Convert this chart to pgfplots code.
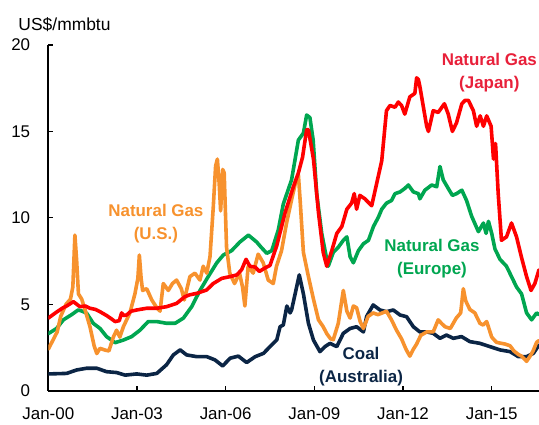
\documentclass[border=0pt]{standalone}
\usepackage{fontspec}
\setmainfont{Liberation Sans}
\usepackage{pgfplots}
\pgfplotsset{compat=1.18}
\definecolor{jpred}{HTML}{FF0000}
\definecolor{eugreen}{HTML}{00A650}
\definecolor{usorange}{HTML}{F7922E}
\definecolor{coalnavy}{HTML}{0B2545}
\definecolor{jplabel}{HTML}{E8203A}
\begin{document}
\begin{tikzpicture}
\begin{axis}[name=ax, scale only axis, width=490.7bp, height=345.7bp,
 xmin=0, xmax=16.6, ymin=0, ymax=20,
 axis lines*=left, axis line style={line width=1.6bp, black},
 xtick={0,3,6,9,12,15}, xticklabels={Jan-00,Jan-03,Jan-06,Jan-09,Jan-12,Jan-15},
 ytick={0,5,10,15,20}, yticklabels={0,5,10,15,20},
 tick align=inside, major tick length=5bp, tick style={line width=1.3bp, black},
 ticklabel style={font=\fontsize{17}{17}\selectfont, inner sep=0pt},
 xticklabel style={anchor=north, yshift=-17bp},
 yticklabel style={anchor=east, xshift=-18bp},
 every axis plot/.append style={line width=3.6bp, line join=round, line cap=round, no marks},
]
% Coal (Australia)
\addplot[coalnavy] table {
0 0.97
0.62 1.0
0.96 1.2
1.3 1.3
1.64 1.3
1.97 1.1
2.31 1.05
2.6 0.9
2.99 0.97
3.33 0.9
3.67 1.0
4.0 1.5
4.23 2.07
4.46 2.36
4.68 2.07
5.02 1.97
5.36 1.97
5.64 1.78
5.9 1.43
6.15 1.88
6.43 2.0
6.71 1.63
7.0 1.97
7.28 2.16
7.5 2.55
7.73 2.94
7.84 3.7
7.95 3.8
8.07 4.9
8.18 4.5
8.23 4.67
8.35 5.6
8.49 6.7
8.63 5.6
8.8 3.9
8.97 2.93
9.19 2.26
9.36 2.55
9.53 2.74
9.76 2.55
9.98 3.32
10.21 3.6
10.43 3.7
10.66 3.4
10.77 4.3
10.99 4.96
11.22 4.67
11.44 4.57
11.67 4.67
11.9 4.38
12.12 4.28
12.35 3.7
12.57 3.4
12.8 3.4
13.02 3.32
13.25 3.03
13.47 3.22
13.7 3.03
13.98 3.13
14.26 2.84
14.6 2.74
14.94 2.55
15.28 2.36
15.62 2.26
15.9 1.97
16.18 1.97
16.41 2.16
16.6 2.65
};
% Natural gas (Europe)
\addplot[eugreen] table {
0 3.3
0.28 3.6
0.51 4.1
0.79 4.4
1.01 4.67
1.15 4.6
1.3 4.48
1.52 3.9
1.75 3.6
1.97 3.13
2.26 2.78
2.54 2.93
2.82 3.13
3.1 3.5
3.38 4.0
3.67 4.0
4.0 3.9
4.29 3.9
4.57 4.2
4.85 4.86
5.13 5.8
5.41 6.6
5.7 7.4
5.92 7.85
6.2 8.1
6.48 8.6
6.77 9.0
7.05 8.6
7.2 8.3
7.39 7.95
7.56 8.1
7.78 9.3
7.95 10.8
8.23 12.2
8.46 14.5
8.63 14.9
8.74 15.95
8.85 15.8
8.96 14.5
9.08 11.4
9.25 9.1
9.42 7.6
9.47 7.2
9.64 8.0
9.81 8.3
9.98 8.7
10.1 8.9
10.21 7.75
10.32 7.4
10.49 8.1
10.66 8.5
10.83 8.7
11.0 9.5
11.17 10.05
11.28 10.5
11.44 10.85
11.61 11.0
11.73 11.4
11.9 11.5
12.06 11.7
12.18 11.9
12.35 11.5
12.52 11.4
12.57 11.1
12.74 11.6
12.97 11.9
13.14 11.8
13.25 12.97
13.36 12.2
13.53 11.7
13.67 11.3
13.81 11.4
13.99 11.6
14.15 11.0
14.32 10.1
14.55 9.2
14.72 9.7
14.81 9.1
14.89 9.8
15.0 9.1
15.11 8.2
15.28 7.6
15.5 7.2
15.67 6.6
15.84 6.0
16.01 5.6
16.18 4.5
16.35 4.1
16.52 4.5
16.6 4.4
};
% Natural gas (U.S.)
\addplot[usorange] table {
0 2.4
0.15 2.9
0.3 3.4
0.42 4.3
0.6 5.0
0.75 5.3
0.83 6.0
0.9 9.0
0.96 7.5
1.02 5.6
1.13 5.3
1.24 4.7
1.41 3.7
1.55 2.6
1.64 2.15
1.75 2.45
1.92 2.35
2.05 2.3
2.2 3.1
2.31 3.5
2.42 3.1
2.54 3.7
2.76 4.5
2.93 5.6
3.03 6.5
3.08 7.85
3.14 6.5
3.19 5.8
3.33 5.9
3.5 5.25
3.67 4.8
3.78 4.6
3.89 6.2
4.06 5.8
4.2 6.2
4.34 6.4
4.5 5.9
4.6 5.25
4.79 6.6
4.96 6.8
5.13 6.4
5.24 7.2
5.36 6.8
5.47 7.75
5.58 10.6
5.66 13.0
5.72 13.4
5.78 12.0
5.83 10.4
5.9 12.8
5.95 12.6
6.03 8.3
6.14 6.8
6.3 6.2
6.47 6.8
6.57 6.0
6.65 4.9
6.76 7.2
6.93 6.8
7.1 7.9
7.27 7.4
7.44 6.4
7.61 6.2
7.72 7.2
7.89 8.1
8.06 9.7
8.25 11.2
8.4 12.3
8.46 12.5
8.52 11.0
8.63 8.0
8.8 6.6
8.97 5.3
9.14 4.1
9.3 3.7
9.42 3.3
9.55 3.0
9.64 2.95
9.81 3.9
9.98 5.8
10.1 4.6
10.21 4.2
10.32 4.9
10.43 4.8
10.55 4.0
10.66 3.6
10.82 4.3
10.99 4.5
11.15 4.4
11.3 4.5
11.44 4.6
11.61 4.1
11.78 3.5
11.95 3.0
12.1 2.4
12.23 2.0
12.35 2.4
12.46 2.7
12.6 3.2
12.8 3.4
13.02 3.4
13.19 4.1
13.3 3.9
13.42 3.7
13.6 3.6
13.8 4.2
13.95 4.5
14.04 5.9
14.12 5.2
14.26 4.7
14.43 4.5
14.6 3.9
14.71 3.8
14.83 4.0
15.0 3.1
15.16 2.8
15.3 2.75
15.45 2.7
15.62 2.6
15.75 2.3
15.9 2.1
16.01 2.0
16.18 1.7
16.3 2.0
16.4 2.3
16.52 2.8
16.6 2.9
};
% Natural gas (Japan)
\addplot[jpred] table {
0 4.2
0.28 4.55
0.5 4.8
0.62 4.9
0.85 5.15
1.07 4.86
1.25 4.9
1.41 4.77
1.6 4.7
1.75 4.57
1.97 4.35
2.1 4.2
2.26 4.0
2.4 4.05
2.48 4.5
2.55 4.35
2.65 4.38
2.8 4.6
2.99 4.67
3.33 4.77
3.67 4.77
4.0 4.86
4.34 5.05
4.62 5.44
4.79 5.55
5.02 5.63
5.36 5.83
5.58 6.2
5.87 6.5
6.15 6.6
6.38 6.7
6.54 7.0
6.69 7.6
6.82 7.2
7.0 7.15
7.14 6.9
7.33 7.1
7.5 7.25
7.73 8.4
8.01 10.3
8.29 11.8
8.46 12.6
8.6 13.5
8.74 15.1
8.8 15.1
8.97 13.4
9.14 10.3
9.3 8.0
9.42 7.2
9.59 8.1
9.76 9.1
9.93 9.5
10.1 10.5
10.26 10.85
10.35 11.4
10.43 10.5
10.54 11.3
10.71 11.1
10.94 10.7
11.11 12.0
11.28 13.3
11.44 16.2
11.56 16.5
11.73 16.4
11.84 16.7
11.95 16.5
12.06 16.0
12.23 17.0
12.4 17.2
12.46 18.1
12.52 18.0
12.57 17.6
12.69 16.4
12.8 15.3
12.86 15.0
13.02 16.2
13.19 16.1
13.4 16.6
13.53 16.0
13.67 15.0
13.81 15.5
13.99 16.6
14.1 16.8
14.21 16.8
14.38 16.2
14.49 15.3
14.61 15.9
14.72 15.3
14.83 15.9
14.98 15.3
15.06 13.4
15.13 14.3
15.22 11.4
15.33 8.7
15.5 8.9
15.67 9.7
15.84 8.9
16.01 7.7
16.18 6.6
16.33 5.8
16.46 6.2
16.6 7.0
};
\node[font=\bfseries\fontsize{17}{23}\selectfont, text=usorange, align=center] at (axis cs:3.64,9.67) {Natural Gas\\(U.S.)};
\node[font=\bfseries\fontsize{17}{23}\selectfont, text=jplabel, align=center] at (axis cs:14.92,18.4) {Natural Gas\\(Japan)};
\node[font=\bfseries\fontsize{17}{23}\selectfont, text=eugreen, align=center] at (axis cs:12.98,7.65) {Natural Gas\\(Europe)};
\node[font=\bfseries\fontsize{17}{23}\selectfont, text=coalnavy, align=center] at (axis cs:10.58,1.4) {Coal\\(Australia)};
\end{axis}
\node[anchor=base west, inner sep=0pt, font=\fontsize{17.5}{17.5}\selectfont] at ([xshift=-30bp,yshift=14bp]ax.north west) {US\$/mmbtu};
\pgfresetboundingbox
\path ([xshift=-48.3bp,yshift=-34.3bp]ax.south west) rectangle ([yshift=45bp]ax.north east);
\end{tikzpicture}
\end{document}
